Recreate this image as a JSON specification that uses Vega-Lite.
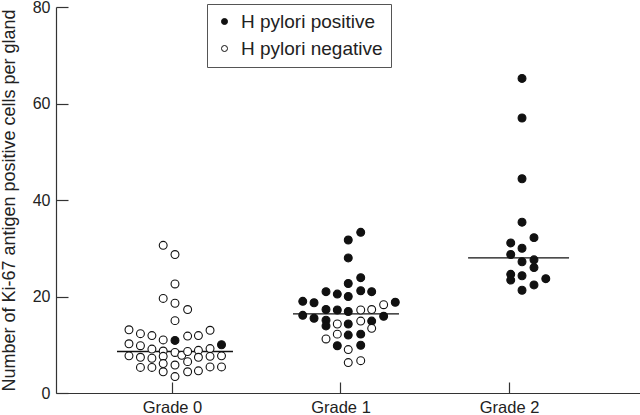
{
  "$schema": "https://vega.github.io/schema/vega-lite/v6.json",
  "width": 584,
  "height": 386,
  "autosize": "none",
  "padding": {"left": 56, "top": 7, "right": 0, "bottom": 22},
  "background": "white",
  "config": {
    "view": {"stroke": null},
    "font": "Liberation Sans",
    "axis": {"grid": false, "domainColor": "#333", "tickColor": "#333", "labelColor": "#222", "titleColor": "#222", "labelFontSize": 16, "titleFontSize": 18, "titleFontWeight": "normal", "domainWidth": 1.2, "tickWidth": 1.2}
  },
  "datasets": {
    "points": [
      {"grade": 0, "pos": -0.255, "ki67": 13.1, "hp": "negative"},
      {"grade": 0, "pos": -0.255, "ki67": 10.2, "hp": "negative"},
      {"grade": 0, "pos": -0.255, "ki67": 7.7, "hp": "negative"},
      {"grade": 0, "pos": -0.187, "ki67": 12.3, "hp": "negative"},
      {"grade": 0, "pos": -0.187, "ki67": 9.8, "hp": "negative"},
      {"grade": 0, "pos": -0.187, "ki67": 7.4, "hp": "negative"},
      {"grade": 0, "pos": -0.187, "ki67": 5.3, "hp": "negative"},
      {"grade": 0, "pos": -0.119, "ki67": 11.9, "hp": "negative"},
      {"grade": 0, "pos": -0.119, "ki67": 9.1, "hp": "negative"},
      {"grade": 0, "pos": -0.119, "ki67": 7.2, "hp": "negative"},
      {"grade": 0, "pos": -0.119, "ki67": 5.3, "hp": "negative"},
      {"grade": 0, "pos": -0.052, "ki67": 30.6, "hp": "negative"},
      {"grade": 0, "pos": -0.052, "ki67": 19.6, "hp": "negative"},
      {"grade": 0, "pos": -0.052, "ki67": 11.0, "hp": "negative"},
      {"grade": 0, "pos": -0.052, "ki67": 8.7, "hp": "negative"},
      {"grade": 0, "pos": -0.052, "ki67": 7.6, "hp": "negative"},
      {"grade": 0, "pos": -0.052, "ki67": 6.1, "hp": "negative"},
      {"grade": 0, "pos": -0.052, "ki67": 4.4, "hp": "negative"},
      {"grade": 0, "pos": 0.018, "ki67": 28.7, "hp": "negative"},
      {"grade": 0, "pos": 0.018, "ki67": 22.6, "hp": "negative"},
      {"grade": 0, "pos": 0.018, "ki67": 18.6, "hp": "negative"},
      {"grade": 0, "pos": 0.018, "ki67": 15.0, "hp": "negative"},
      {"grade": 0, "pos": 0.018, "ki67": 10.9, "hp": "positive"},
      {"grade": 0, "pos": 0.018, "ki67": 8.4, "hp": "negative"},
      {"grade": 0, "pos": 0.018, "ki67": 5.8, "hp": "negative"},
      {"grade": 0, "pos": 0.018, "ki67": 3.4, "hp": "negative"},
      {"grade": 0, "pos": 0.058, "ki67": 7.8, "hp": "negative"},
      {"grade": 0, "pos": 0.093, "ki67": 17.3, "hp": "negative"},
      {"grade": 0, "pos": 0.093, "ki67": 11.8, "hp": "negative"},
      {"grade": 0, "pos": 0.093, "ki67": 8.6, "hp": "negative"},
      {"grade": 0, "pos": 0.093, "ki67": 6.5, "hp": "negative"},
      {"grade": 0, "pos": 0.093, "ki67": 4.4, "hp": "negative"},
      {"grade": 0, "pos": 0.157, "ki67": 11.9, "hp": "negative"},
      {"grade": 0, "pos": 0.157, "ki67": 8.85, "hp": "negative"},
      {"grade": 0, "pos": 0.157, "ki67": 7.4, "hp": "negative"},
      {"grade": 0, "pos": 0.157, "ki67": 4.6, "hp": "negative"},
      {"grade": 0, "pos": 0.226, "ki67": 13.0, "hp": "negative"},
      {"grade": 0, "pos": 0.226, "ki67": 9.2, "hp": "negative"},
      {"grade": 0, "pos": 0.226, "ki67": 7.6, "hp": "negative"},
      {"grade": 0, "pos": 0.226, "ki67": 5.4, "hp": "negative"},
      {"grade": 0, "pos": 0.294, "ki67": 10.0, "hp": "positive"},
      {"grade": 0, "pos": 0.294, "ki67": 7.7, "hp": "negative"},
      {"grade": 0, "pos": 0.294, "ki67": 5.4, "hp": "negative"},
      {"grade": 1, "pos": 0.776, "ki67": 19.0, "hp": "positive"},
      {"grade": 1, "pos": 0.776, "ki67": 16.1, "hp": "positive"},
      {"grade": 1, "pos": 0.843, "ki67": 18.7, "hp": "positive"},
      {"grade": 1, "pos": 0.843, "ki67": 15.5, "hp": "positive"},
      {"grade": 1, "pos": 0.914, "ki67": 21.0, "hp": "positive"},
      {"grade": 1, "pos": 0.914, "ki67": 17.3, "hp": "positive"},
      {"grade": 1, "pos": 0.914, "ki67": 15.1, "hp": "positive"},
      {"grade": 1, "pos": 0.914, "ki67": 13.9, "hp": "positive"},
      {"grade": 1, "pos": 0.914, "ki67": 11.2, "hp": "negative"},
      {"grade": 1, "pos": 0.981, "ki67": 20.5, "hp": "positive"},
      {"grade": 1, "pos": 0.981, "ki67": 17.2, "hp": "positive"},
      {"grade": 1, "pos": 0.981, "ki67": 14.3, "hp": "negative"},
      {"grade": 1, "pos": 0.981, "ki67": 12.2, "hp": "negative"},
      {"grade": 1, "pos": 0.981, "ki67": 9.8, "hp": "positive"},
      {"grade": 1, "pos": 1.046, "ki67": 31.7, "hp": "positive"},
      {"grade": 1, "pos": 1.046, "ki67": 28.0, "hp": "positive"},
      {"grade": 1, "pos": 1.046, "ki67": 22.7, "hp": "positive"},
      {"grade": 1, "pos": 1.046, "ki67": 20.0, "hp": "positive"},
      {"grade": 1, "pos": 1.046, "ki67": 16.9, "hp": "positive"},
      {"grade": 1, "pos": 1.046, "ki67": 14.3, "hp": "positive"},
      {"grade": 1, "pos": 1.046, "ki67": 12.0, "hp": "positive"},
      {"grade": 1, "pos": 1.046, "ki67": 9.0, "hp": "negative"},
      {"grade": 1, "pos": 1.046, "ki67": 6.3, "hp": "negative"},
      {"grade": 1, "pos": 1.12, "ki67": 33.3, "hp": "positive"},
      {"grade": 1, "pos": 1.12, "ki67": 23.9, "hp": "positive"},
      {"grade": 1, "pos": 1.12, "ki67": 21.2, "hp": "positive"},
      {"grade": 1, "pos": 1.12, "ki67": 17.2, "hp": "negative"},
      {"grade": 1, "pos": 1.12, "ki67": 14.9, "hp": "negative"},
      {"grade": 1, "pos": 1.12, "ki67": 12.2, "hp": "positive"},
      {"grade": 1, "pos": 1.12, "ki67": 9.9, "hp": "positive"},
      {"grade": 1, "pos": 1.12, "ki67": 6.7, "hp": "negative"},
      {"grade": 1, "pos": 1.185, "ki67": 21.0, "hp": "positive"},
      {"grade": 1, "pos": 1.185, "ki67": 17.3, "hp": "negative"},
      {"grade": 1, "pos": 1.185, "ki67": 14.9, "hp": "positive"},
      {"grade": 1, "pos": 1.185, "ki67": 13.4, "hp": "negative"},
      {"grade": 1, "pos": 1.256, "ki67": 18.3, "hp": "negative"},
      {"grade": 1, "pos": 1.256, "ki67": 15.9, "hp": "positive"},
      {"grade": 1, "pos": 1.325, "ki67": 18.8, "hp": "positive"},
      {"grade": 2, "pos": 2.01, "ki67": 31.1, "hp": "positive"},
      {"grade": 2, "pos": 2.01, "ki67": 28.7, "hp": "positive"},
      {"grade": 2, "pos": 2.01, "ki67": 24.6, "hp": "positive"},
      {"grade": 2, "pos": 2.01, "ki67": 23.4, "hp": "positive"},
      {"grade": 2, "pos": 2.077, "ki67": 65.2, "hp": "positive"},
      {"grade": 2, "pos": 2.077, "ki67": 57.0, "hp": "positive"},
      {"grade": 2, "pos": 2.077, "ki67": 44.4, "hp": "positive"},
      {"grade": 2, "pos": 2.077, "ki67": 35.4, "hp": "positive"},
      {"grade": 2, "pos": 2.077, "ki67": 30.0, "hp": "positive"},
      {"grade": 2, "pos": 2.077, "ki67": 27.2, "hp": "positive"},
      {"grade": 2, "pos": 2.077, "ki67": 24.3, "hp": "positive"},
      {"grade": 2, "pos": 2.077, "ki67": 21.3, "hp": "positive"},
      {"grade": 2, "pos": 2.148, "ki67": 32.2, "hp": "positive"},
      {"grade": 2, "pos": 2.148, "ki67": 27.6, "hp": "positive"},
      {"grade": 2, "pos": 2.148, "ki67": 26.0, "hp": "positive"},
      {"grade": 2, "pos": 2.148, "ki67": 22.4, "hp": "positive"},
      {"grade": 2, "pos": 2.218, "ki67": 23.7, "hp": "positive"}
    ],
    "medians": [
      {"grade": 0, "from": -0.326, "to": 0.362, "median": 8.6},
      {"grade": 1, "from": 0.718, "to": 1.347, "median": 16.4},
      {"grade": 2, "from": 1.757, "to": 2.356, "median": 28.0}
    ]
  },
  "layer": [
    {
      "data": {"name": "medians"},
      "mark": {"type": "rule", "color": "#111", "strokeWidth": 1.3},
      "encoding": {
        "x": {"field": "from", "type": "quantitative", "scale": {"domain": [-0.688, 2.777], "nice": false, "zero": false},
          "axis": {"values": [0, 1, 2], "labelExpr": "'Grade ' + datum.value", "title": null, "tickSize": -11, "labelPadding": 17, "labelFontSize": 16.5}},
        "x2": {"field": "to"},
        "y": {"field": "median", "type": "quantitative", "scale": {"domain": [0, 80], "nice": false},
          "axis": {"values": [0, 20, 40, 60, 80], "title": "Number of Ki-67 antigen positive cells per gland", "tickSize": -12, "labelPadding": 18, "titlePadding": 14}}
      }
    },
    {
      "data": {"name": "points"},
      "mark": {"type": "point", "shape": "circle", "filled": true, "stroke": "#111", "strokeWidth": 1.1, "size": 62, "opacity": 1},
      "encoding": {
        "x": {"field": "pos", "type": "quantitative"},
        "y": {"field": "ki67", "type": "quantitative"},
        "fill": {"field": "hp", "type": "nominal",
          "scale": {"domain": ["positive", "negative"], "range": ["#111", "white"]},
          "legend": {"orient": "none", "legendX": 151, "legendY": -3, "title": null,
            "labelExpr": "'H pylori ' + datum.label", "labelFontSize": 19, "labelColor": "#222",
            "symbolType": "circle", "symbolSize": 36, "symbolStrokeColor": "#111", "symbolStrokeWidth": 1,
            "strokeColor": "#555", "padding": 8, "rowPadding": 7, "labelOffset": 7, "symbolOpacity": 1}}
      }
    }
  ]
}
